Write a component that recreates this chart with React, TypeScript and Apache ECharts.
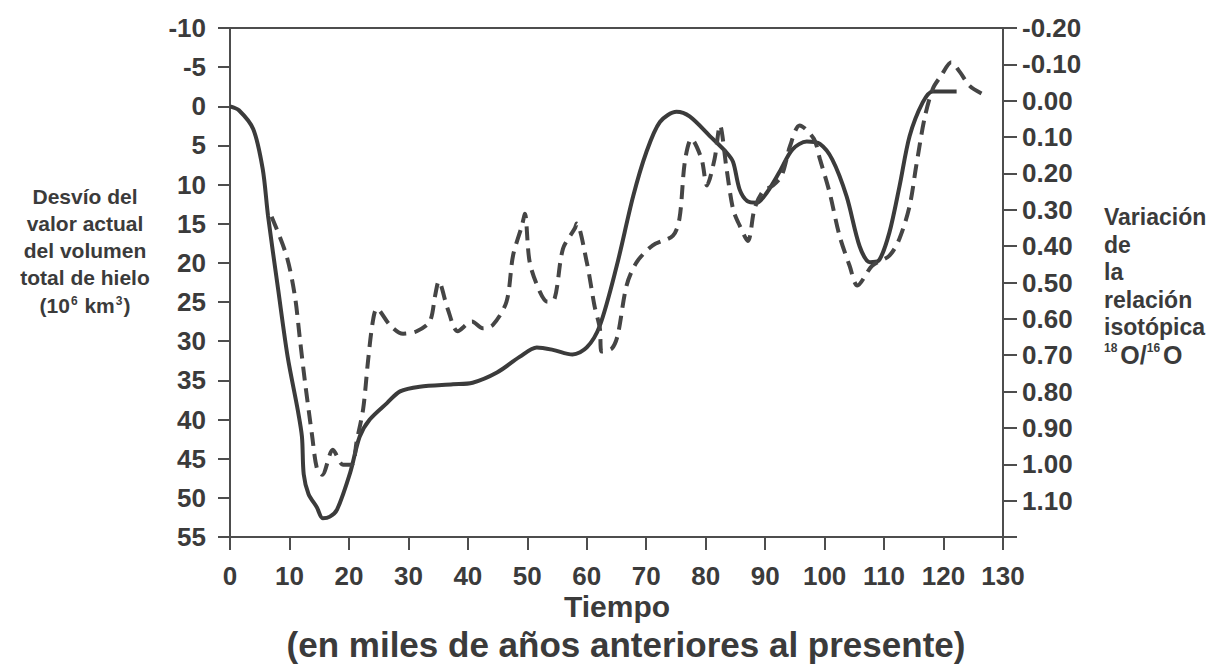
import React, { useEffect, useRef } from "react";
import * as echarts from "echarts";

// Solid curve: ice volume deviation (10^6 km3), left axis
const iceTime = [0, 1.5, 3.9, 5.5, 6.4, 8.1, 9.7, 11.4, 12.1, 12.4, 13.2, 14.6, 15.6, 16.8, 18, 20.2, 21.8, 23.5, 26.4, 28.6, 31.9, 37.5, 40.8, 44.9, 48.7, 51.6, 54.3, 57.6, 60, 62.2, 65, 67.8, 70, 72.3, 75.1, 77.3, 80.7, 83.5, 84.6, 85.7, 87, 88.6, 90.3, 92.4, 94.6, 97, 99.2, 101.3, 103.7, 105.9, 107.6, 109.2, 110.9, 112.6, 114.3, 116.5, 118.2, 122.2];
const iceVolume = [0, 0.5, 2.9, 8, 14, 23.4, 32, 38.8, 42.2, 47, 49.5, 51.2, 52.6, 52.4, 51.5, 46.8, 42.2, 40, 37.9, 36.4, 35.8, 35.5, 35.3, 34, 32, 30.8, 31.1, 31.7, 30.8, 28, 20.5, 11.5, 5.9, 2, 0.7, 1.3, 3.8, 5.9, 7.1, 10.6, 12.1, 12.3, 11, 8.4, 5.5, 4.5, 4.8, 6.8, 11.5, 17.9, 19.9, 19.6, 16.1, 10.2, 3.8, -0.5, -1.9, -1.9];

// Dashed curve: 18O/16O isotopic ratio variation, right axis
const isoTime = [7, 9.5, 10.9, 11.8, 12.6, 13.8, 14.6, 15.5, 17.3, 19, 20.5, 21.3, 22.4, 23.2, 24, 24.7, 26.9, 29.1, 31.4, 33.6, 34.5, 35.1, 36.6, 38.3, 40.7, 42.5, 44.2, 46.5, 47.6, 49.1, 49.6, 50.4, 52.1, 53.4, 54.6, 56, 58, 58.3, 60, 61.3, 62.2, 62.5, 64.2, 65.2, 66.7, 68.4, 71.1, 74.5, 75.6, 76.5, 77.6, 79.3, 80.2, 81.5, 82.4, 83.5, 84.6, 85.7, 87.1, 88.2, 89.6, 91.3, 92.8, 94.2, 95.8, 98.2, 99.2, 100.8, 102.5, 104.2, 105.5, 108, 110.9, 112.6, 114.3, 115.4, 116.8, 118.2, 119.6, 121.3, 122.7, 124.4, 126.4];
const isoRatio = [0.319, 0.426, 0.536, 0.662, 0.772, 0.92, 1.01, 1.029, 0.96, 1.001, 1.001, 0.937, 0.847, 0.718, 0.609, 0.572, 0.617, 0.641, 0.634, 0.607, 0.536, 0.497, 0.572, 0.634, 0.607, 0.626, 0.617, 0.553, 0.426, 0.343, 0.311, 0.444, 0.525, 0.553, 0.544, 0.407, 0.351, 0.338, 0.444, 0.564, 0.626, 0.69, 0.682, 0.645, 0.508, 0.444, 0.398, 0.371, 0.323, 0.167, 0.105, 0.16, 0.233, 0.16, 0.068, 0.186, 0.298, 0.343, 0.386, 0.298, 0.25, 0.233, 0.205, 0.124, 0.068, 0.105, 0.16, 0.25, 0.371, 0.454, 0.508, 0.454, 0.426, 0.379, 0.289, 0.18, 0.049, -0.033, -0.069, -0.106, -0.08, -0.041, -0.02];

const leftTitleLines = ["Desvío del", "valor actual", "del volumen", "total de hielo"];
const rightTitleLines = ["Variación", "de", "la", "relación", "isotópica"];

const INK = "#3b3b3b";
const AXIS = "#4d4d4d";
const FONT = "'Liberation Sans', Arial, Helvetica, sans-serif";

export default function App() {
  const ref = useRef<HTMLDivElement>(null);
  useEffect(() => {
    if (!ref.current) return;
    const chart = echarts.init(ref.current, undefined, { renderer: "svg" });
    const labelStyle = { color: INK, fontSize: 26, fontWeight: "bold" as const, fontFamily: FONT };
    const graphics: any[] = [];
    leftTitleLines.forEach((t, i) => {
      graphics.push({
        type: "text",
        x: 85,
        y: 196 + i * 27,
        style: { text: t, fill: INK, fontSize: 21, fontWeight: "bold", fontFamily: FONT, textAlign: "center", textVerticalAlign: "middle" },
      });
    });
    graphics.push({
      type: "text",
      x: 85,
      y: 305,
      style: {
        text: "(10{sup|6} km{sup|3})",
        fill: INK,
        fontSize: 21,
        fontWeight: "bold",
        fontFamily: FONT,
        textAlign: "center",
        textVerticalAlign: "middle",
        rich: { sup: { fontSize: 12, fontWeight: "bold", fontFamily: FONT, fill: INK, verticalAlign: "top", padding: [0, 1, 0, 1] } },
      },
    });
    rightTitleLines.forEach((t, i) => {
      graphics.push({
        type: "text",
        x: 1104,
        y: 217 + i * 27.5,
        style: { text: t, fill: INK, fontSize: 23, fontWeight: "bold", fontFamily: FONT, textAlign: "left", textVerticalAlign: "middle" },
      });
    });
    graphics.push({
      type: "text",
      x: 1104,
      y: 217 + 5 * 27.5,
      style: {
        text: "{sup|18}O/{sup|16}O",
        fill: INK,
        fontSize: 25,
        fontWeight: "bold",
        fontFamily: FONT,
        textAlign: "left",
        textVerticalAlign: "middle",
        rich: { sup: { fontSize: 12, fontWeight: "bold", fontFamily: FONT, fill: INK, verticalAlign: "top", padding: [0, 3, 0, 0] } },
      },
    });
    graphics.push({
      type: "text",
      x: 617,
      y: 606,
      style: { text: "Tiempo", fill: INK, fontSize: 30, fontWeight: "bold", fontFamily: FONT, textAlign: "center", textVerticalAlign: "middle" },
    });
    graphics.push({
      type: "text",
      x: 626,
      y: 644,
      style: { text: "(en miles de años anteriores al presente)", fill: INK, fontSize: 35, fontWeight: "bold", fontFamily: FONT, textAlign: "center", textVerticalAlign: "middle" },
    });

    chart.setOption({
      animation: false,
      backgroundColor: "#ffffff",
      grid: { left: 230, right: 211, top: 28, bottom: 127, show: true, borderColor: AXIS, borderWidth: 2, backgroundColor: "transparent" },
      xAxis: {
        type: "value",
        min: 0,
        max: 130,
        interval: 10,
        axisLine: { show: true, onZero: false, lineStyle: { color: AXIS, width: 2 } },
        axisTick: { show: true, length: 13, lineStyle: { color: AXIS, width: 2 } },
        axisLabel: { ...labelStyle, margin: 26 },
        splitLine: { show: false },
      },
      yAxis: [
        {
          type: "value",
          position: "left",
          inverse: true,
          min: -10,
          max: 55,
          interval: 5,
          axisLine: { show: true, onZero: false, lineStyle: { color: AXIS, width: 2 } },
          axisTick: { show: true, length: 12, lineStyle: { color: AXIS, width: 2 } },
          axisLabel: { ...labelStyle, margin: 24 },
          splitLine: { show: false },
        },
        {
          type: "value",
          position: "right",
          inverse: true,
          min: -0.2,
          max: 1.2,
          interval: 0.1,
          axisLine: { show: true, onZero: false, lineStyle: { color: AXIS, width: 2 } },
          axisTick: { show: true, length: 14, lineStyle: { color: AXIS, width: 2 } },
          axisLabel: {
            ...labelStyle,
            margin: 19,
            formatter: (v: number) => (v > 1.15 ? "" : Math.abs(v) < 1e-9 ? "0.00" : v.toFixed(2)),
          },
          splitLine: { show: false },
        },
      ],
      graphic: graphics,
      series: [
        {
          type: "line",
          name: "hielo",
          yAxisIndex: 0,
          data: iceTime.map((t, i) => [t, iceVolume[i]]),
          smooth: 0.3,
          showSymbol: false,
          symbol: "none",
          lineStyle: { color: INK, width: 4 },
        },
        {
          type: "line",
          name: "isotopo",
          yAxisIndex: 1,
          data: isoTime.map((t, i) => [t, isoRatio[i]]),
          smooth: 0.3,
          showSymbol: false,
          symbol: "none",
          lineStyle: { color: "#454545", width: 4, type: [14, 8] },
        },
      ],
    });
    return () => chart.dispose();
  }, []);
  return <div ref={ref} style={{ position: "fixed", left: 0, top: 0, width: 1214, height: 664, background: "#fff" }} />;
}
